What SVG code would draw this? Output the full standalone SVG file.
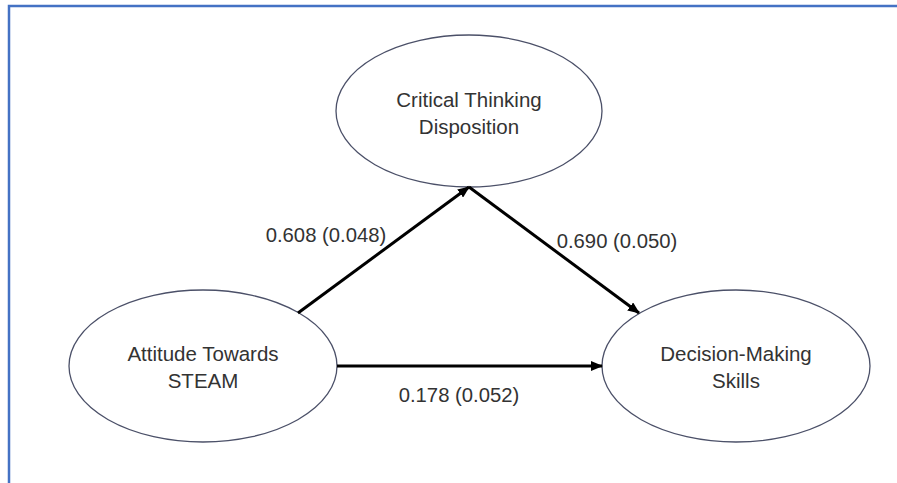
<svg xmlns="http://www.w3.org/2000/svg" width="897" height="483" viewBox="0 0 897 483">
  <style>
    .node ellipse { fill: #ffffff; stroke: #4b5068; stroke-width: 1.3; }
    .node text, .lbl { font-family: "Liberation Sans", Arial, sans-serif; font-size: 20.5px; fill: #333333; text-anchor: middle; }
    .lbl { font-size: 20.3px; }
    .edge { stroke: #000000; stroke-width: 3; fill: none; marker-end: url(#arrow); }
  </style>
  <defs>
    <marker id="arrow" markerUnits="userSpaceOnUse" markerWidth="12" markerHeight="10" refX="11" refY="5" orient="auto">
      <path d="M0,0 L12,5 L0,10 Z" fill="#000000"/>
    </marker>
  </defs>
  <rect width="897" height="483" fill="#ffffff"/>
  <path d="M9,483 L9,6 L897,6" fill="none" stroke="#4472c4" stroke-width="2.5"/>

  <g id="node-ctd" class="node">
    <ellipse cx="469" cy="111" rx="133" ry="76"/>
    <text x="469" y="107">Critical Thinking</text>
    <text x="469" y="134">Disposition</text>
  </g>
  <g id="node-steam" class="node">
    <ellipse cx="203" cy="366" rx="134" ry="76"/>
    <text x="203" y="361">Attitude Towards</text>
    <text x="203" y="388">STEAM</text>
  </g>
  <g id="node-dms" class="node">
    <ellipse cx="736" cy="366" rx="134" ry="76"/>
    <text x="736" y="361">Decision-Making</text>
    <text x="736" y="388">Skills</text>
  </g>

  <g id="connectors">
    <line class="edge" x1="298" y1="313" x2="469" y2="187"/>
    <line class="edge" x1="469" y1="187" x2="639" y2="313"/>
    <line class="edge" x1="337" y1="366" x2="602" y2="366"/>
    <text class="lbl" x="326" y="242">0.608 (0.048)</text>
    <text class="lbl" x="617" y="248">0.690 (0.050)</text>
    <text class="lbl" x="459" y="402">0.178 (0.052)</text>
  </g>
</svg>
